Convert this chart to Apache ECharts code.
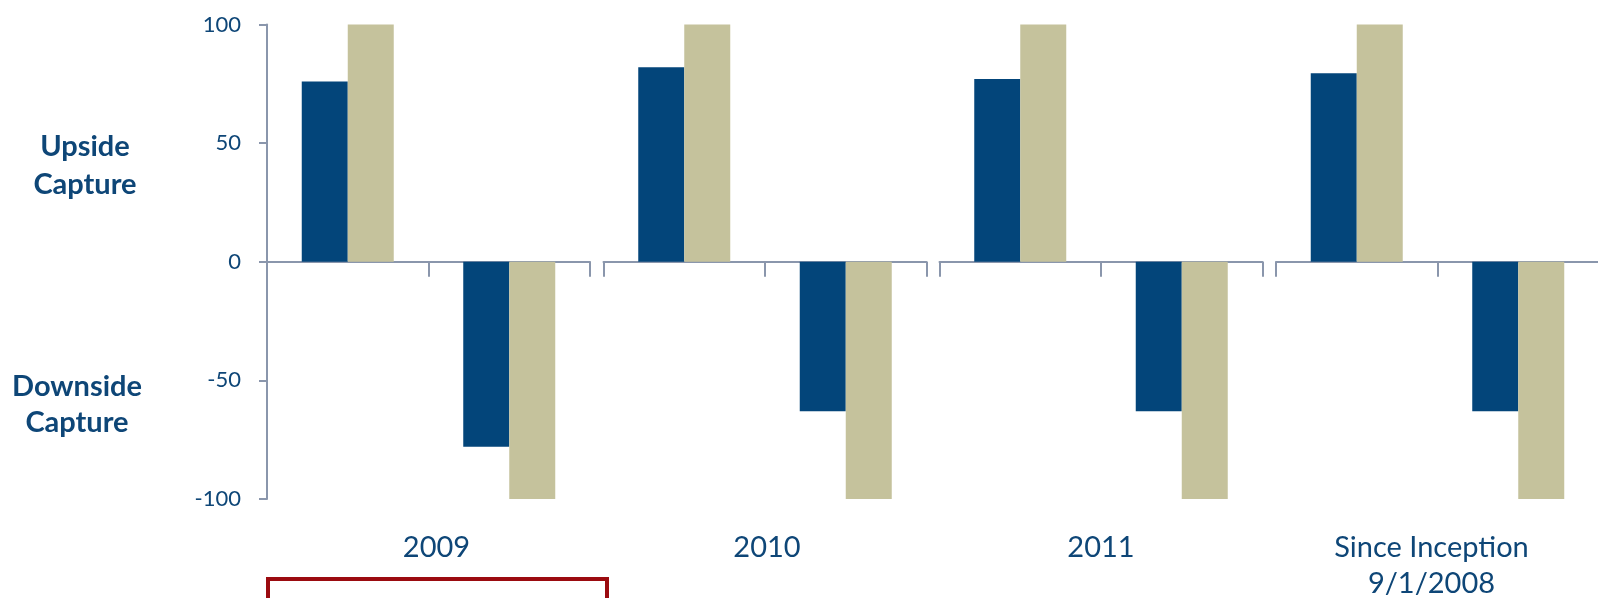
<!DOCTYPE html>
<html>
<head>
<meta charset="utf-8">
<script src="https://cdn.jsdelivr.net/npm/echarts@6/dist/echarts.min.js"></script>
<style>
html,body{margin:0;padding:0;background:#fff;}
#chart{width:1598px;height:598px;}
</style>
</head>
<body>
<div id="chart"></div>
<script>
const groups = ['2009', '2010', '2011', 'Since Inception\n9/1/2008'];
const captureTypes = ['Upside', 'Downside'];
const fundValues = [[76, -78], [82, -63], [77, -63], [79.5, -63]];
const benchmarkValues = [[100, -100], [100, -100], [100, -100], [100, -100]];
const yMin = -100, yMax = 100, yStep = 50;

const FONT = 'Lato';
const TEXT = '#0E4677';
const AXIS = '#8A96AC';
const NAVY = '#03457A';
const TAN = '#C5C29C';

const lefts = [267, 603.5, 939.5, 1276];
const labelPads = [[0, 0, 0, 16], [0, 0, 0, 4], [0, 0, 0, 0], [0, 12, 0, 0]];
const gw = 323;
const gridTop = 24.5, gridH = 474.5;

const chart = echarts.init(document.getElementById('chart'));
const grid = [], xAxis = [], yAxis = [], series = [];
groups.forEach((g, i) => {
  grid.push({left: lefts[i], top: gridTop, width: gw, height: gridH, containLabel: false, outerBoundsMode: 'none'});
  xAxis.push({
    type: 'category', gridIndex: i, data: captureTypes, position: 'bottom',
    axisLine: {onZero: true, lineStyle: {color: AXIS, width: 2}},
    axisTick: {show: true, length: 15, lineStyle: {color: AXIS, width: 2}},
    axisLabel: {show: false}
  });
  xAxis.push({
    type: 'category', gridIndex: i, data: [g], position: 'bottom',
    axisLine: {show: false, onZero: false},
    axisTick: {show: false},
    axisLabel: {show: true, color: TEXT, fontFamily: FONT, fontSize: 29, lineHeight: 36, margin: 31, padding: labelPads[i]}
  });
  yAxis.push({
    type: 'value', gridIndex: i, min: yMin, max: yMax, interval: yStep,
    show: i === 0,
    axisLine: {show: true, lineStyle: {color: AXIS, width: 2}},
    axisTick: {show: true, length: 8, lineStyle: {color: AXIS, width: 2}},
    axisLabel: {color: TEXT, fontFamily: FONT, fontSize: 22, margin: 26},
    splitLine: {show: false}
  });
  series.push({
    type: 'bar', xAxisIndex: 2 * i, yAxisIndex: i, barWidth: 46, barGap: '0%',
    itemStyle: {color: NAVY}, data: fundValues[i], animation: false
  });
  series.push({
    type: 'bar', xAxisIndex: 2 * i, yAxisIndex: i, barWidth: 46, barGap: '0%',
    itemStyle: {color: TAN}, data: benchmarkValues[i], animation: false
  });
});

chart.setOption({
  animation: false,
  grid, xAxis, yAxis, series,
  graphic: [
    {type: 'text', style: {text: 'Upside\nCapture', textAlign: 'center', textVerticalAlign: 'middle', fill: TEXT, font: 'bold 29px Lato', lineHeight: 38}, position: [85, 166]},
    {type: 'text', style: {text: 'Downside\nCapture', textAlign: 'center', textVerticalAlign: 'middle', fill: TEXT, font: 'bold 29px Lato', lineHeight: 36}, position: [77, 405]},
    {type: 'rect', shape: {x: 268, y: 579, width: 339, height: 40}, style: {fill: 'none', stroke: '#9B0B10', lineWidth: 4}}
  ]
});
</script>
</body>
</html>
